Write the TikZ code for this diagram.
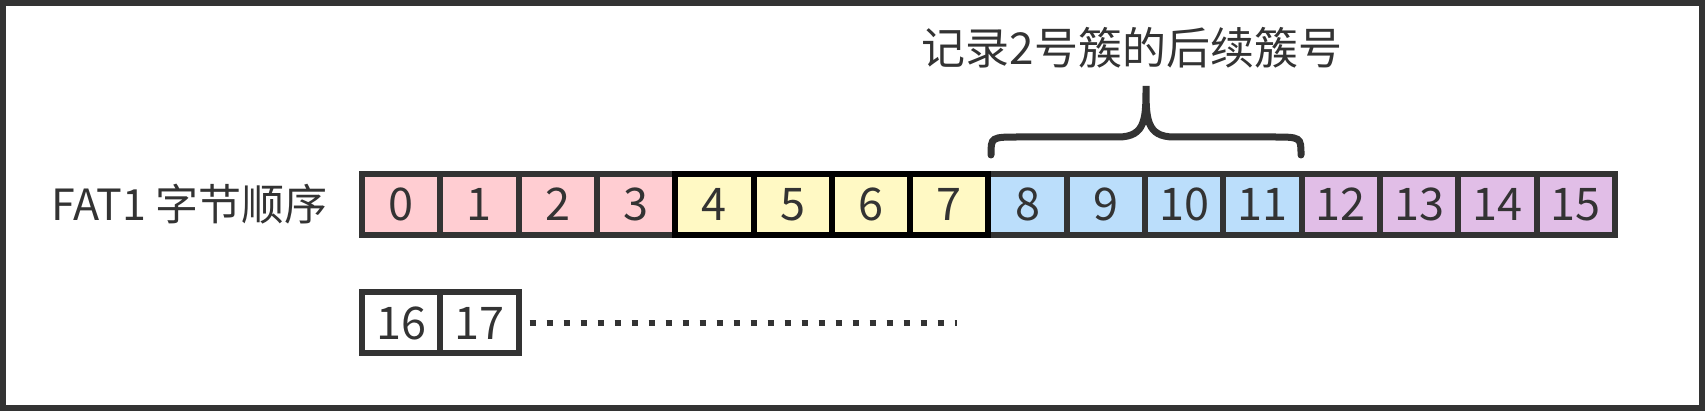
\documentclass[tikz,border=0pt]{standalone}
\usepackage{fontspec}
\setmainfont{Noto Sans CJK SC}
\definecolor{ink}{HTML}{333333}
\definecolor{cpink}{HTML}{FFCDD2}
\definecolor{cyellow}{HTML}{FFF9C4}
\definecolor{cblue}{HTML}{BBDEFB}
\definecolor{cpurple}{HTML}{E1BEE7}
\tikzset{
  cell/.style={draw=ink, line width=6pt, minimum width=78.3pt, minimum height=61pt,
    inner sep=0pt, text=ink, font=\fontsize{45}{48}\selectfont},
  pinkcell/.style={cell, fill=cpink},
  yellowcell/.style={cell, fill=cyellow, draw=black},
  bluecell/.style={cell, fill=cblue},
  purplecell/.style={cell, fill=cpurple},
  whitecell/.style={cell, fill=white},
  lbl/.style={text=ink, inner sep=0pt},
}
\begin{document}
\begin{tikzpicture}[x=1pt, y=-1pt]
\useasboundingbox (0,0) rectangle (1705,411);
\draw[ink, line width=6pt] (3,3) rectangle (1702,408);
% row 1
\foreach \i in {0,...,3} \node[pinkcell] (c\i) at ({401.15+78.3*\i},204.5) {\i};
\foreach \i in {8,...,11} \node[bluecell] (c\i) at ({401.15+78.3*\i},204.5) {\i};
\foreach \i in {12,...,15} \node[purplecell] (c\i) at ({401.15+78.3*\i},204.5) {\i};
\foreach \i in {4,...,7} \node[yellowcell] (c\i) at ({401.15+78.3*\i},204.5) {\i};
% row 2
\node[whitecell] (c16) at (401.15,323) {16};
\node[whitecell] (c17) at (479.45,323) {17};
\coordinate (dotend) at (957,323);
\draw[ink, line width=6pt, dash pattern=on 6pt off 11pt] ([xshift=8pt]c17.east) -- (dotend);
% left label
\node[lbl, anchor=west, font=\fontsize{43}{46}\selectfont] (fat) at (51,204) {FAT1 字节顺序};
% brace
\draw[ink, line width=7pt, line cap=round]
  (991,155) .. controls (991,137) .. (1020,137) -- (1118,137)
  .. controls (1146,137) and (1146,118) .. (1146,86)
  .. controls (1146,118) and (1146,137) .. (1174,137) -- (1272,137)
  .. controls (1301,137) .. (1301,155);
\node[lbl, font=\fontsize{44}{47}\selectfont] (note) at (1132,48) {记录2号簇的后续簇号};
\end{tikzpicture}
\end{document}
